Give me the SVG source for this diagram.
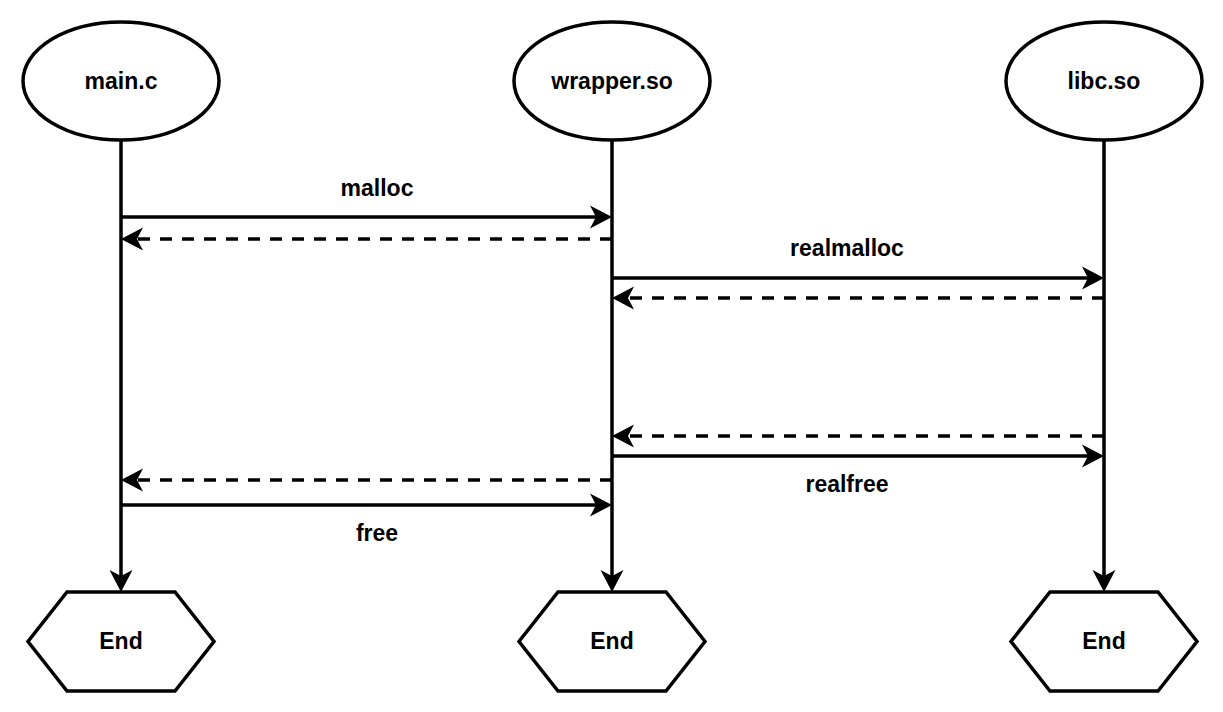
<svg xmlns="http://www.w3.org/2000/svg" width="1223" height="712" viewBox="0 0 1223 712">
<style>
.node{fill:#fff;stroke:#000;stroke-width:3.5}
.lbl{font-family:"Liberation Sans",Arial,sans-serif;font-weight:bold;font-size:23px;fill:#000;text-anchor:middle}
.c{fill:none;stroke:#000;stroke-width:3.5}
.d{stroke-dasharray:12 10}
</style>
<defs>
<marker id="ah" markerUnits="userSpaceOnUse" markerWidth="26" markerHeight="26" viewBox="0 0 26 26" refX="12" refY="13" orient="auto">
<path d="M0,1.5 L22,13 L0,24.5 L6,13 Z" fill="#000"/>
</marker>
</defs>
<rect width="1223" height="712" fill="#fff"/>
<g id="connectors">
<path class="c" d="M121,141 V582" marker-end="url(#ah)"/>
<path class="c" d="M612,141 V582" marker-end="url(#ah)"/>
<path class="c" d="M1104,141 V582" marker-end="url(#ah)"/>
<path class="c" d="M121,217 H602" marker-end="url(#ah)"/>
<path class="c d" d="M612,239 H131" marker-end="url(#ah)"/>
<path class="c" d="M612,278 H1094" marker-end="url(#ah)"/>
<path class="c d" d="M1104,298 H622" marker-end="url(#ah)"/>
<path class="c d" d="M1104,436 H622" marker-end="url(#ah)"/>
<path class="c" d="M612,456 H1094" marker-end="url(#ah)"/>
<path class="c d" d="M612,480 H131" marker-end="url(#ah)"/>
<path class="c" d="M121,505 H602" marker-end="url(#ah)"/>
<text class="lbl" x="377" y="196">malloc</text>
<text class="lbl" x="847" y="256">realmalloc</text>
<text class="lbl" x="847" y="492">realfree</text>
<text class="lbl" x="377" y="541">free</text>
</g>
<g id="main">
<ellipse class="node" cx="121" cy="81" rx="98" ry="59"/>
<text class="lbl" x="121" y="89">main.c</text>
</g>
<g id="wrapper">
<ellipse class="node" cx="612" cy="81" rx="98" ry="59"/>
<text class="lbl" x="612" y="89">wrapper.so</text>
</g>
<g id="libc">
<ellipse class="node" cx="1104" cy="81" rx="98" ry="59"/>
<text class="lbl" x="1104" y="89">libc.so</text>
</g>
<g id="end-main">
<polygon class="node" points="67,592 175,592 214,641.5 175,691 67,691 28,641.5"/>
<text class="lbl" x="121" y="649">End</text>
</g>
<g id="end-wrapper">
<polygon class="node" points="558,592 666,592 705,641.5 666,691 558,691 519,641.5"/>
<text class="lbl" x="612" y="649">End</text>
</g>
<g id="end-libc">
<polygon class="node" points="1050,592 1158,592 1197,641.5 1158,691 1050,691 1011,641.5"/>
<text class="lbl" x="1104" y="649">End</text>
</g>
</svg>
